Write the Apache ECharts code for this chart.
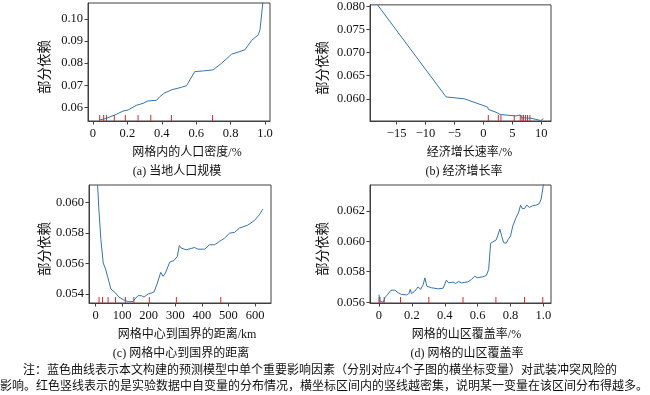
<!DOCTYPE html>
<html>
<head>
<meta charset="utf-8">
<script src="https://cdn.jsdelivr.net/npm/echarts@6/dist/echarts.min.js"></script>
<style>
html,body{margin:0;padding:0;background:#fff;}
#main{width:650px;height:395px;}
</style>
</head>
<body>
<div id="main"></div>
<script>
// ---- (a) population density ----
const popX = [0.035,0.078,0.126,0.175,0.204,0.252,0.291,0.320,0.369,0.388,0.414,0.456,0.515,0.544,0.563,0.592,0.641,0.699,0.748,0.806,0.854,0.883,0.922,0.961,0.971,0.981,0.988];
const popY = [0.0542,0.0550,0.0565,0.0583,0.0588,0.0609,0.0618,0.0629,0.0632,0.0648,0.0664,0.0679,0.0691,0.0698,0.0724,0.0762,0.0765,0.0770,0.0800,0.0841,0.0853,0.0861,0.0903,0.0929,0.0952,0.1027,0.1080];
const popRug = [0.039,0.062,0.078,0.124,0.188,0.262,0.336,0.456,0.695];
const popXTicks = [0,0.2,0.4,0.6,0.8,1.0];
const popYTicks = [0.06,0.07,0.08,0.09,0.10];

// ---- (b) economic growth ----
const growthX = [-18.3,-6.44,-3.28,0.75,0.86,2.18,2.93,5.63,6.38,6.61,8.22,8.5,9.94,10.4];
const growthY = [0.0803,0.0604,0.0600,0.0582,0.0577,0.0571,0.0566,0.0563,0.0565,0.0559,0.0558,0.0554,0.0553,0.0557];
const growthRug = [0.86,2.59,3.05,5.34,6.38,6.67,6.95,7.30,7.64,8.05];
const growthXTicks = [-15,-10,-5,0,5,10];
const growthYTicks = [0.060,0.065,0.070,0.075,0.080];

// ---- (c) distance to border ----
const distX = [7.5,12.5,20,28.75,37.5,45,57.5,72.5,87.5,103.75,122.5,141,147.5,160,172.5,182.5,197.5,220,232.5,245,254,262.5,279,295,307.5,315,322.5,341,360,372.5,385,410,429,447.5,466,485,504,522.5,541,572.5,597.5,616,629];
const distY = [0.06115,0.05952,0.05756,0.05603,0.05564,0.05516,0.05433,0.05411,0.0538,0.05363,0.0535,0.0535,0.05367,0.05389,0.05389,0.0538,0.0540,0.05413,0.05472,0.05542,0.05516,0.05537,0.05609,0.0562,0.05646,0.05718,0.05701,0.0569,0.05699,0.05705,0.05694,0.05694,0.05723,0.05723,0.05745,0.05766,0.05799,0.05804,0.05832,0.05852,0.05882,0.05919,0.05956];
const distRug = [13,26,47,75,112,144,202,304,471];
const distXTicks = [0,100,200,300,400,500,600];
const distYTicks = [0.054,0.056,0.058,0.060];

// ---- (d) mountain coverage ----
const mountX = [0,0.006,0.016,0.026,0.036,0.053,0.073,0.097,0.117,0.137,0.168,0.182,0.190,0.198,0.218,0.238,0.253,0.269,0.279,0.291,0.319,0.360,0.390,0.410,0.424,0.451,0.465,0.485,0.501,0.541,0.562,0.582,0.598,0.632,0.653,0.667,0.679,0.693,0.713,0.723,0.735,0.747,0.758,0.774,0.784,0.800,0.814,0.834,0.848,0.861,0.871,0.885,0.899,0.915,0.935,0.956,0.976,0.986,0.996,1.002];
const mountY = [0.05651,0.05607,0.05618,0.0560,0.05629,0.05651,0.05679,0.05679,0.05662,0.05651,0.05648,0.05657,0.05684,0.05657,0.05673,0.05701,0.05684,0.05716,0.0576,0.05705,0.05695,0.05688,0.05692,0.05745,0.05727,0.05732,0.05723,0.05736,0.05727,0.05734,0.05749,0.05771,0.0576,0.05767,0.05776,0.05815,0.05987,0.05996,0.06009,0.0604,0.06079,0.06031,0.05991,0.05987,0.06009,0.06035,0.06101,0.06156,0.06185,0.06237,0.06215,0.06215,0.06237,0.06222,0.06233,0.06237,0.06248,0.06277,0.06343,0.0639];
const mountRug = [0.0,0.006,0.032,0.131,0.303,0.511,0.711,0.885,0.996];
const mountXTicks = [0,0.2,0.4,0.6,0.8,1.0];
const mountYTicks = [0.056,0.058,0.060,0.062];

const yName = '部分依赖';
const xNames = ['网格内的人口密度/%','经济增长速率/%','网格中心到国界的距离/km','网格的山区覆盖率/%'];
const subTitles = ['(a) 当地人口规模','(b) 经济增长率','(c) 网格中心到国界的距离','(d) 网格的山区覆盖率'];
const noteLines = ['注：蓝色曲线表示本文构建的预测模型中单个重要影响因素（分别对应4个子图的横坐标变量）对武装冲突风险的',
                   '影响。红色竖线表示的是实验数据中自变量的分布情况，横坐标区间内的竖线越密集，说明某一变量在该区间分布得越多。'];

const FONT = '"Liberation Serif", "Noto Sans CJK SC", serif';
const AX = '#404040';
const LINE = '#3474b0';
const RUG = '#e3262a';

const panels = [
  {x:popX, y:popY, rug:popRug, xt:popXTicks, yt:popYTicks, xr:[-0.029,1.029], yr:[0.0538,0.1073],
   grid:{left:88,top:3,width:182,height:118}, xf:v=>v===0?'0':v.toFixed(1), yf:v=>v.toFixed(2), shift:16, ygap:36},
  {x:growthX, y:growthY, rug:growthRug, xt:growthXTicks, yt:growthYTicks, xr:[-19.6,11.7], yr:[0.0552,0.0803],
   grid:{left:370,top:3,width:181,height:118}, xf:v=>(v<0?'\u2212':'')+Math.abs(v), yf:v=>v.toFixed(3), shift:18, ygap:40},
  {x:distX, y:distY, rug:distRug, xt:distXTicks, yt:distYTicks, xr:[-24.8,660], yr:[0.05341,0.06115],
   grid:{left:89,top:185,width:182,height:118}, xf:v=>String(v), yf:v=>v.toFixed(3), shift:14, ygap:37},
  {x:mountX, y:mountY, rug:mountRug, xt:mountXTicks, yt:mountYTicks, xr:[-0.0545,1.046], yr:[0.05595,0.06369],
   grid:{left:370,top:185,width:181,height:118}, xf:v=>v===0?'0':v.toFixed(1), yf:v=>v.toFixed(3), shift:12, ygap:40}
];

const grids = [], xAxes = [], yAxes = [], series = [];
panels.forEach((p, i) => {
  grids.push(Object.assign({show:true, borderColor:AX, borderWidth:1, containLabel:false}, p.grid));
  xAxes.push({
    type:'value', gridIndex:i, min:p.xr[0], max:p.xr[1],
    name:xNames[i], nameLocation:'middle', nameGap:26,
    nameTextStyle:{fontFamily:FONT, fontSize:12, color:'#111', padding:[0,0,0,p.shift]},
    axisLine:{show:true, onZero:false, lineStyle:{color:AX, width:1}},
    axisTick:{show:true, inside:false, length:3.5, lineStyle:{color:AX}, customValues:p.xt},
    axisLabel:{fontFamily:FONT, fontSize:12.5, color:'#111', margin:6, customValues:p.xt, formatter:p.xf},
    splitLine:{show:false}
  });
  yAxes.push({
    type:'value', gridIndex:i, min:p.yr[0], max:p.yr[1],
    name:yName, nameLocation:'middle', nameGap:p.ygap, nameRotate:90,
    nameTextStyle:{fontFamily:FONT, fontSize:13.5, color:'#111', padding:[0,10,0,0]},
    axisLine:{show:true, onZero:false, lineStyle:{color:AX, width:1}},
    axisTick:{show:true, inside:false, length:3.5, lineStyle:{color:AX}, customValues:p.yt},
    axisLabel:{fontFamily:FONT, fontSize:12.5, color:'#111', margin:5, customValues:p.yt, formatter:p.yf},
    splitLine:{show:false}
  });
  series.push({
    type:'line', xAxisIndex:i, yAxisIndex:i, showSymbol:false, symbol:'none', clip:true,
    data:p.x.map((v,k)=>[v,p.y[k]]),
    lineStyle:{color:LINE, width:1}, animation:false, silent:true
  });
  const ymin = p.yr[0];
  series.push({
    type:'custom', coordinateSystem:'cartesian2d', xAxisIndex:i, yAxisIndex:i,
    data:p.rug.map(v=>[v]), animation:false, silent:true,
    renderItem:(params, api)=>{
      const pt = api.coord([api.value(0), ymin]);
      return {type:'line', shape:{x1:pt[0], y1:pt[1], x2:pt[0], y2:pt[1]-6},
              style:{stroke:RUG, lineWidth:1}};
    }
  });
});

const subPos = [[177,172],[464,172],[181,354],[467,354]];
const graphic = subTitles.map((t,i)=>({
  type:'text', x:subPos[i][0], y:subPos[i][1],
  style:{text:t, fontFamily:FONT, fontSize:12, fill:'#111', align:'center', verticalAlign:'middle'}
}));
graphic.push({type:'text', x:23, y:371, style:{text:noteLines[0], fontFamily:FONT, fontSize:12, fill:'#111', align:'left', verticalAlign:'middle'}});
graphic.push({type:'text', x:0, y:387, style:{text:noteLines[1], fontFamily:FONT, fontSize:12, fill:'#111', align:'left', verticalAlign:'middle'}});

const chart = echarts.init(document.getElementById('main'), null, {renderer:'canvas'});
chart.setOption({
  animation:false,
  backgroundColor:'#ffffff',
  grid:grids, xAxis:xAxes, yAxis:yAxes, series:series, graphic:graphic
});
</script>
</body>
</html>
